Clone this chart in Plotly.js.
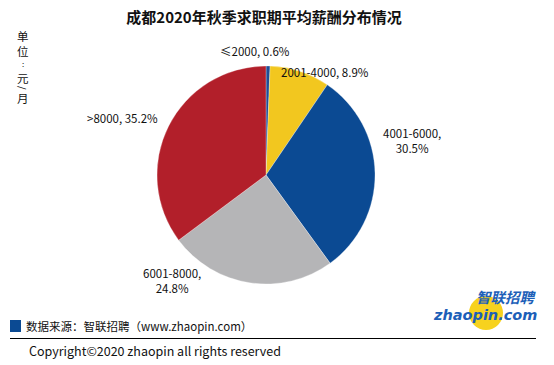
<!DOCTYPE html>
<html>
<head>
<meta charset="utf-8">
<script src="https://cdn.plot.ly/plotly-3.0.1.min.js"></script>
<style>html,body{margin:0;padding:0;background:#fff;}#chart{width:554px;height:365px;}</style>
</head>
<body>
<div id="chart"></div>
<script>
// Data
const categories = ["≤2000", "2001-4000", "4001-6000", "6001-8000", ">8000"];
const shares = [0.6, 8.9, 30.5, 24.8, 35.2];
const labelTexts = ["≤2000, 0.6%", "2001-4000, 8.9%", "4001-6000,<br>30.5%", "6001-8000,<br>24.8%", ">8000, 35.2%"];
const sliceColors = ["#1F4E96", "#F2C71F", "#0B4A93", "#B5B5B7", "#B21F2A"];
const labelPos = [[255, 51], [325, 72], [412, 140], [172, 280], [122, 118]];
const unitChars = ["单", "位", ":", "元", "/", "月"];
const unitY = [36, 51, 64, 78, 88, 98];
const unitSize = [11.5, 11.5, 8, 11.5, 9, 11.5];

const W = 554, H = 365;
const cx = 266, cy = 175, r = 109;
const font = "'Noto Sans CJK SC', 'Microsoft YaHei', sans-serif";

const annotations = labelTexts.map((t, i) => ({
  xref: 'paper', yref: 'paper',
  x: labelPos[i][0] / W, y: 1 - labelPos[i][1] / H,
  xanchor: 'center', yanchor: 'middle',
  text: t, showarrow: false, align: 'center',
  font: {family: font, size: 11.5, color: '#111'}
}));

unitChars.forEach((c, i) => {
  annotations.push({xref:'paper', yref:'paper', x: 23/W, y: 1 - unitY[i]/H,
    xanchor:'center', yanchor:'middle', text: c, showarrow:false, borderpad: 0,
    textangle: c === '/' ? 90 : 0,
    font:{family:font, size:unitSize[i], color:'#111'}});
});

annotations.push(
  {xref:'paper', yref:'paper', x: 24/W, y: 1 - 326/H, xanchor:'left', yanchor:'middle',
   text:'数据来源：智联招聘（www.zhaopin.com）', showarrow:false,
   font:{family:font, size:11.5, color:'#111'}},
  {xref:'paper', yref:'paper', x: 27/W, y: 1 - 350/H, xanchor:'left', yanchor:'middle',
   text:'Copyright©2020 zhaopin all rights reserved', showarrow:false,
   font:{family:font, size:12.5, color:'#111'}},
  {xref:'paper', yref:'paper', x: 506/W, y: 1 - 296/H, xanchor:'center', yanchor:'middle',
   text:'<b><i>智联招聘</i></b>', showarrow:false, borderpad: 0,
   font:{family:font, size:14.5, color:'#1D5FB8'}},
  {xref:'paper', yref:'paper', x: 485/W, y: 1 - 314.5/H, xanchor:'center', yanchor:'middle',
   text:'<b><i>zhaopin.com</i></b>', showarrow:false, borderpad: 0,
   font:{family:"'DejaVu Sans', Arial, sans-serif", size:14.5, color:'#1D5FB8'}}
);

const shapes = [
  {type:'circle', xref:'paper', yref:'paper', layer:'below',
   x0: 469/W, x1: 503/W, y0: 1 - 330/H, y1: 1 - 296/H,
   fillcolor:'#F7D21E', line:{width:0}},
  {type:'rect', xref:'paper', yref:'paper',
   x0: 10/W, x1: 21/W, y0: 1 - 332/H, y1: 1 - 320/H,
   fillcolor:'#0B4A93', line:{width:0}},
  {type:'line', xref:'paper', yref:'paper',
   x0: 10/W, x1: 536/W, y0: 1 - 338.5/H, y1: 1 - 338.5/H,
   line:{color:'#000', width:1}}
];

const trace = {
  type: 'pie',
  labels: categories,
  values: shares,
  sort: false,
  direction: 'clockwise',
  rotation: 0,
  textinfo: 'none',
  hoverinfo: 'label+percent',
  marker: {colors: sliceColors, line: {color: '#fff', width: 0.3}},
  domain: {x: [(cx - r) / W, (cx + r) / W], y: [1 - (cy + r) / H, 1 - (cy - r) / H]},
  showlegend: false
};

const layout = {
  width: W, height: H,
  margin: {l:0, r:0, t:0, b:0},
  paper_bgcolor: '#fff',
  title: {text: '<b>成都2020年秋季求职期平均薪酬分布情况</b>', x: 264/W, xanchor:'center', y: 1 - 18/H, yanchor:'middle',
          font: {family: font, size: 15, color: '#111'}},
  annotations: annotations,
  shapes: shapes,
  showlegend: false
};

Plotly.newPlot('chart', [trace], layout, {displayModeBar: false, staticPlot: true});
</script>
</body>
</html>
